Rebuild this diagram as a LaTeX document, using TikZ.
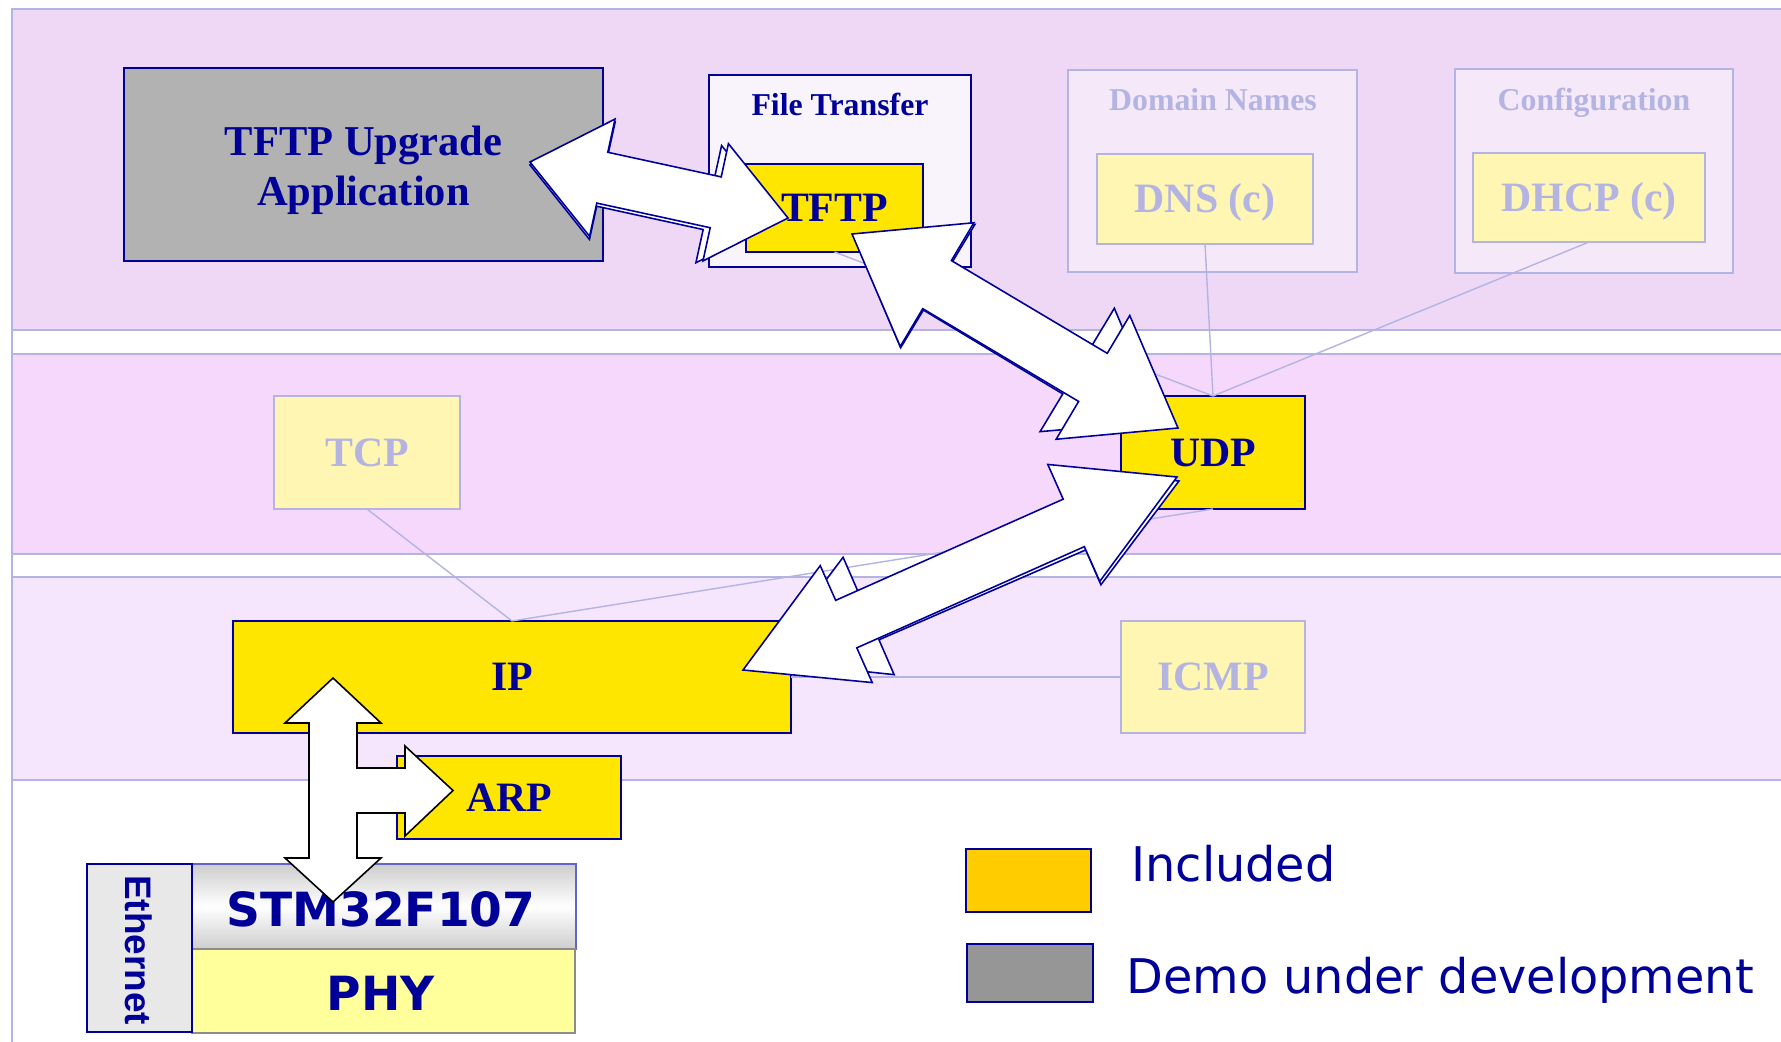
\documentclass[tikz,border=0pt]{standalone}
\usepackage{fontspec}
\setmainfont{Liberation Serif}
\newfontfamily\dvsans{DejaVu Sans}
\newfontfamily\libsans{Liberation Sans}
\usetikzlibrary{calc}
\definecolor{navy}{RGB}{0,0,153}
\definecolor{faded}{RGB}{180,180,226}
\definecolor{bandA}{RGB}{238,216,245}
\definecolor{bandB}{RGB}{246,216,253}
\definecolor{bandC}{RGB}{246,230,253}
\definecolor{ftfill}{RGB}{249,243,252}
\definecolor{dnfill}{RGB}{245,232,249}
\definecolor{incl}{RGB}{255,230,0}
\definecolor{pale}{RGB}{255,246,180}
\definecolor{appgray}{RGB}{178,178,178}
\definecolor{legyel}{RGB}{255,204,0}
\definecolor{leggray}{RGB}{150,150,150}
\definecolor{ethgray}{RGB}{232,232,232}
\definecolor{stmgray}{RGB}{205,205,205}
\definecolor{stmblue}{RGB}{100,100,200}
\definecolor{phyfill}{RGB}{255,255,155}
\definecolor{phyborder}{RGB}{140,140,140}
\tikzset{
  bandbox/.style={draw=faded, line width=0.8pt},
  nbox/.style={draw=navy, line width=1pt, inner sep=0pt, outer sep=0pt},
  fadebox/.style={draw=faded, line width=0.9pt, inner sep=0pt, outer sep=0pt},
  serlab/.style={font=\bfseries\fontsize{23.8}{28}\selectfont, text height=15.8pt, text depth=0pt},
  ttl/.style={font=\bfseries\fontsize{18.1}{21}\selectfont, anchor=base, inner sep=0pt},
  conn/.style={draw=faded, line width=0.8pt},
  bigarrow/.style={draw=navy, fill=white, line width=0.9pt, line join=miter},
  tarrow/.style={draw=black, fill=white, line width=0.9pt, line join=miter},
  legtext/.style={font=\dvsans\fontsize{27.2}{31}\selectfont, text=navy, anchor=base west, inner sep=0pt},
  chiptext/.style={font=\dvsans\bfseries\fontsize{26.8}{30}\selectfont, text=navy, anchor=base, inner sep=0pt}
}
% #1 style, #2 tip A, #3 tip B, #4 head length, #5 head half width, #6 shaft half width
\newcommand{\dblarrow}[6]{%
  \coordinate (pa) at ($(#2)!#4!(#3)$);
  \coordinate (pb) at ($(#3)!#4!(#2)$);
  \path[#1] (#2) -- ($(pa)!#5!90:(#3)$) -- ($(pa)!#6!90:(#3)$)
    -- ($(pb)!#6!-90:(#2)$) -- ($(pb)!#5!-90:(#2)$) -- (#3)
    -- ($(pb)!#5!90:(#2)$) -- ($(pb)!#6!90:(#2)$)
    -- ($(pa)!#6!-90:(#3)$) -- ($(pa)!#5!-90:(#3)$) -- cycle;
}
\begin{document}
\begin{tikzpicture}[x=0.02cm,y=-0.02cm]
\path[use as bounding box] (0,0) rectangle (1781,1041);
\clip (0,0) rectangle (1781,1041);
\fill[white] (0,0) rectangle (1781,1041);

% layer bands
\draw[bandbox, fill=bandA] (12,9) rectangle (1800,330);
\draw[bandbox, fill=bandB] (12,354) rectangle (1800,554);
\draw[bandbox, fill=bandC] (12,577) rectangle (1800,780);
\draw[bandbox] (12,9) -- (12,1045);

% application layer
\node[nbox, fill=appgray, minimum width=9.58cm, minimum height=3.86cm] (app) at (363.5,164.5) {};
\node[font=\bfseries\fontsize{24.2}{28.5}\selectfont, text=navy, align=center] (apptxt) at (363.5,170) {TFTP Upgrade\\Application};

\node[nbox, fill=ftfill, minimum width=5.24cm, minimum height=3.84cm] (ft) at (840,171) {};
\node[ttl, text=navy] (fttxt) at (840,115) {File Transfer};
\node[nbox, fill=incl, serlab, text=navy, minimum width=3.54cm, minimum height=1.76cm] (tftp) at (834.5,208) {TFTP};

\node[fadebox, fill=dnfill, minimum width=5.78cm, minimum height=4.04cm] (dn) at (1212.5,171) {};
\node[ttl, text=faded] (dntxt) at (1213,110) {Domain Names};
\node[fadebox, fill=pale, serlab, text=faded, minimum width=4.32cm, minimum height=1.8cm] (dns) at (1205,199) {DNS (c)};

\node[fadebox, fill=dnfill, minimum width=5.56cm, minimum height=4.08cm] (cfg) at (1594,171) {};
\node[ttl, text=faded] (cfgtxt) at (1594,110) {Configuration};
\node[fadebox, fill=pale, serlab, text=faded, minimum width=4.64cm, minimum height=1.78cm] (dhcp) at (1589,197.5) {DHCP (c)};

% transport layer
\node[fadebox, fill=pale, serlab, text=faded, minimum width=3.72cm, minimum height=2.26cm] (tcp) at (367,452.5) {TCP};
\node[nbox, fill=incl, serlab, text=navy, minimum width=3.68cm, minimum height=2.26cm] (udp) at (1213,452.5) {UDP};

% network layer
\node[nbox, fill=incl, serlab, text=navy, minimum width=11.16cm, minimum height=2.24cm] (ip) at (512,677) {IP};
\node[fadebox, fill=pale, serlab, text=faded, minimum width=3.68cm, minimum height=2.24cm] (icmp) at (1213,677) {ICMP};
\node[nbox, fill=incl, serlab, text=navy, minimum width=4.48cm, minimum height=1.66cm] (arp) at (509,797.5) {ARP};

% hardware
\node[draw=stmblue, line width=1pt, top color=stmgray, bottom color=stmgray, middle color=white, minimum width=7.68cm, minimum height=1.7cm, inner sep=0pt, outer sep=0pt] (stm) at (384,906.5) {};
\node[chiptext] (stmtxt) at (381,926) {STM32F107};
\node[draw=phyborder, line width=1pt, fill=phyfill, minimum width=7.66cm, minimum height=1.68cm, inner sep=0pt, outer sep=0pt] (phy) at (383.5,991) {};
\node[chiptext] (phytxt) at (381,1010) {PHY};
\node[nbox, fill=ethgray, minimum width=2.1cm, minimum height=3.36cm] (eth) at (139.5,948) {};
\node[font=\libsans\bfseries\fontsize{21}{25}\selectfont, text=navy, rotate=-90] (ethtxt) at (139,950) {Ethernet};

% faint relations
\draw[conn] (tcp.south) -- (ip.north);
\draw[conn] (udp.south) -- (ip.north);
\draw[conn] (icmp.west) -- (ip.east);
\draw[conn] (dns.south) -- (udp.north);
\draw[conn] (dhcp.south) -- (udp.north);
\draw[conn] (tftp.south) -- (udp.north);

% big double arrows
\coordinate (a1l) at (530,162);
\coordinate (a1r) at (788,218);
\coordinate (a1ls) at (530,165);
\coordinate (a1rs) at (781,220);
\dblarrow{bigarrow}{a1ls}{a1rs}{1.48cm}{1.2cm}{0.52cm}
\dblarrow{bigarrow}{a1l}{a1r}{1.48cm}{1.2cm}{0.52cm}

\coordinate (a2t) at (852,234);
\coordinate (a2b) at (1178,428);
\coordinate (a2ts) at (853,235);
\coordinate (a2bs) at (1162,421);
\dblarrow{bigarrow}{a2ts}{a2bs}{1.98cm}{1.44cm}{0.56cm}
\dblarrow{bigarrow}{a2t}{a2b}{1.98cm}{1.44cm}{0.56cm}

\coordinate (a3l) at (743,670);
\coordinate (a3r) at (1177,477);
\coordinate (a3ls) at (765,661);
\coordinate (a3rs) at (1179,481);
\dblarrow{bigarrow}{a3ls}{a3rs}{2.26cm}{1.28cm}{0.52cm}
\dblarrow{bigarrow}{a3l}{a3r}{2.26cm}{1.28cm}{0.52cm}

% IP <-> MAC with branch to ARP
\coordinate (tup) at (333,678);
\coordinate (tdown) at (333,902);
\coordinate (tright) at (453,790.5);
\path[tarrow] (tup) -- (381,723) -- (357,723) -- (357,768) -- (405,768) -- (405,746)
  -- (tright) -- (405,836) -- (405,813) -- (357,813) -- (357,858) -- (381,858)
  -- (tdown) -- (285,858) -- (309,858) -- (309,723) -- (285,723) -- cycle;

% legend
\node[nbox, fill=legyel, minimum width=2.5cm, minimum height=1.26cm] (leg1) at (1028.5,880.5) {};
\node[legtext] (leg1txt) at (1131,881) {Included};
\node[nbox, fill=leggray, minimum width=2.52cm, minimum height=1.16cm] (leg2) at (1030,973) {};
\node[legtext] (leg2txt) at (1126,993) {Demo under development};
\end{tikzpicture}
\end{document}
